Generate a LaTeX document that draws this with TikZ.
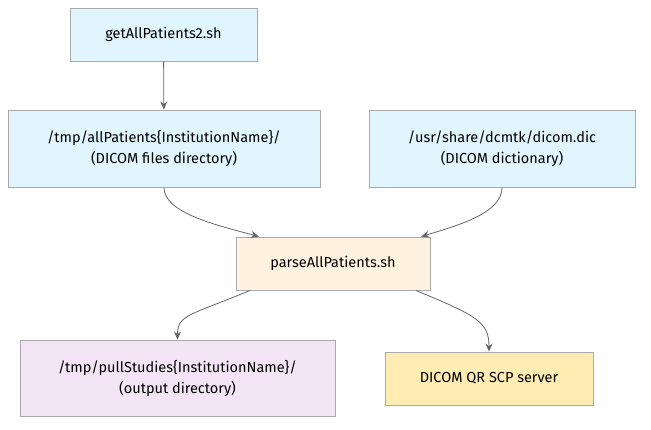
\documentclass[tikz,border=0pt]{standalone}
\usepackage{fontspec}
\setmainfont{Fira Sans}
\usepackage{tikz}
\usetikzlibrary{arrows.meta,positioning}
\definecolor{fileblue}{HTML}{E1F5FE}
\definecolor{scriptorange}{HTML}{FFF3E0}
\definecolor{outpurple}{HTML}{F3E5F5}
\definecolor{serveryellow}{HTML}{FFECB3}
\definecolor{boxline}{HTML}{AAAAAA}
\definecolor{edgegray}{HTML}{666666}

\begin{document}
\begin{tikzpicture}[x=1pt, y=-1pt,
    font=\fontsize{14.5}{21}\selectfont,
    box/.style={draw=boxline, line width=0.9pt, align=center, inner sep=0pt},
    flow/.style={draw=edgegray, line width=0.8pt, -{Stealth[length=8pt,width=7pt]}}]
    \useasboundingbox (0,0) rectangle (651,430);
    % scripts and files
    \node[box, fill=fileblue, minimum width=187pt, minimum height=53pt] (getall) at (163.5,34.5) {getAllPatients2.sh};
    \node[box, fill=fileblue, minimum width=312pt, minimum height=77pt] (allpat) at (164,148.5) {/tmp/allPatients\{InstitutionName\}/\\(DICOM files directory)};
    \node[box, fill=fileblue, minimum width=266pt, minimum height=77pt] (dicdict) at (502,148.5) {/usr/share/dcmtk/dicom.dic\\(DICOM dictionary)};
    \node[box, fill=scriptorange, minimum width=194pt, minimum height=53pt] (parse) at (333,263.5) {parseAllPatients.sh};
    \node[box, fill=outpurple, minimum width=315pt, minimum height=76pt] (pullst) at (177.5,378) {/tmp/pullStudies\{InstitutionName\}/\\(output directory)};
    \node[box, fill=serveryellow, minimum width=208pt, minimum height=53pt] (qrscp) at (489,378.5) {DICOM QR SCP server};
    % connectors
    \draw[flow] (getall) -- (allpat);
    \draw[flow] (allpat.south) .. controls +(0,25) and +(-45,-12) .. (parse.160);
    \draw[flow] (dicdict.south) .. controls +(0,25) and +(40,-12) .. (parse.17);
    \draw[flow] (parse.198) .. controls +(-60,25) and +(0,-25) .. (pullst.north);
    \draw[flow] (parse.342) .. controls +(60,25) and +(0,-30) .. (qrscp.north);
\end{tikzpicture}
\end{document}
